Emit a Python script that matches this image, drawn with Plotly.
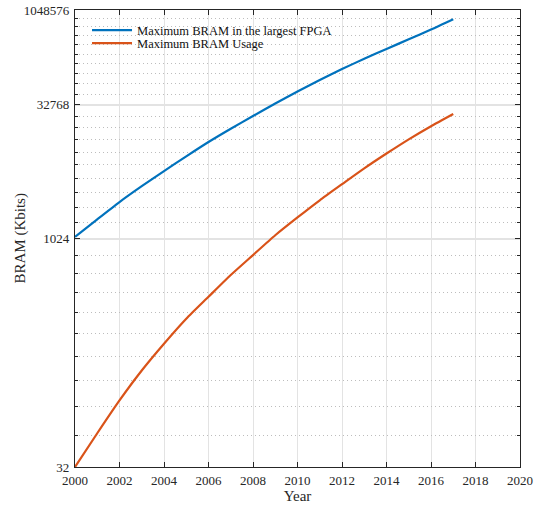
import math
import plotly.graph_objects as go

# Years covered by both series
years = list(range(2000, 2018))

# Largest on-chip block RAM available in a single FPGA (Kbits)
bram_largest_fpga = [1060, 1552, 2304, 3373, 4939, 7281, 10809, 15827, 23170,
                     34161, 50361, 73735, 107938, 155872, 223516, 322722,
                     472514, 716178]

# Largest block RAM actually used by designs (Kbits)
bram_usage = [32, 46.5, 69.5, 104, 154, 229, 333, 495, 729, 1097, 1618, 2402,
              3541, 5294, 7858, 11665, 17080, 24660]

# Y axis: log of the base-2 exponent, labelled with the power-of-two value
y_tick_exponents = [5, 10, 15, 20]
y_tick_labels = ["32", "1024", "32768", "1048576"]
y_minor_exponents = [k / 2 for k in range(11, 40) if k % 10 != 0]

x_ticks = list(range(2000, 2021, 2))

blue = "#0072BD"
orange = "#D95319"
axis_col = "#262626"
font_family = "Liberation Serif, Times New Roman, serif"

plot_left, plot_right = 75, 17
plot_top, plot_bottom = 10, 39
plot_w = 537 - plot_left - plot_right
plot_h = 506 - plot_top - plot_bottom
y_range = [math.log10(5), math.log10(20)]


def legend_y(px):
    # paper coordinate for a legend row centred px pixels from the page top
    return 1 - (px - plot_top) / plot_h


fig = go.Figure()
fig.add_trace(go.Scatter(
    x=years, y=[math.log2(v) for v in bram_largest_fpga],
    mode="lines", name="Maximum BRAM in the largest FPGA",
    line=dict(color=blue, width=2.2, shape="spline", smoothing=0.6),
    legend="legend",
))
fig.add_trace(go.Scatter(
    x=years, y=[math.log2(v) for v in bram_usage],
    mode="lines", name="Maximum BRAM Usage",
    line=dict(color=orange, width=2.2, shape="spline", smoothing=0.6),
    legend="legend2",
))
# empty trace that anchors the minor-tick axis
fig.add_trace(go.Scatter(x=[], y=[], yaxis="y2", showlegend=False,
                         hoverinfo="skip"))

legend_style = dict(
    xanchor="left", yanchor="middle",
    bgcolor="rgba(255,255,255,0)", borderwidth=0,
    font=dict(family=font_family, size=12.5, color="#111111"),
    itemwidth=40,
)

fig.update_layout(
    width=537, height=506,
    margin=dict(l=plot_left, r=plot_right, t=plot_top, b=plot_bottom),
    paper_bgcolor="white", plot_bgcolor="white",
    font=dict(family=font_family, size=13, color=axis_col),
    showlegend=True,
    legend=dict(x=0.027, y=legend_y(30.5), **legend_style),
    legend2=dict(x=0.027, y=legend_y(43.5), **legend_style),
    xaxis=dict(
        range=[2000, 2020], automargin=False,
        tickvals=x_ticks, ticktext=[str(t) for t in x_ticks],
        ticks="inside", ticklen=5, tickcolor=axis_col,
        ticklabelstandoff=1,
        showline=True, linecolor=axis_col, linewidth=1.2, mirror="ticks",
        showgrid=True, gridcolor="#e3e3e3", gridwidth=1,
        zeroline=False,
        title=dict(text="Year", font=dict(size=15), standoff=2),
    ),
    yaxis=dict(
        type="log", automargin=False,
        range=y_range,
        tickvals=y_tick_exponents, ticktext=y_tick_labels,
        ticks="inside", ticklen=5, tickcolor=axis_col,
        ticklabelstandoff=2,
        showline=True, linecolor=axis_col, linewidth=1.2, mirror="ticks",
        showgrid=True, gridcolor="#e3e3e3", gridwidth=1.5,
        zeroline=False,
    ),
    # minor ticks and dotted grid at every half power-of-two exponent
    yaxis2=dict(
        type="log", automargin=False, overlaying="y", side="left",
        range=y_range,
        tickmode="array", tickvals=y_minor_exponents,
        showticklabels=False,
        ticks="inside", ticklen=3, tickcolor=axis_col,
        showline=True, linecolor=axis_col, linewidth=1.2, mirror="ticks",
        showgrid=True, gridcolor="#bdbdbd", griddash="1px,3px", gridwidth=1,
        zeroline=False,
    ),
    annotations=[dict(
        text="BRAM (Kbits)", textangle=-90,
        xref="paper", yref="paper",
        x=(20 - plot_left) / plot_w, y=0.5,
        xanchor="center", yanchor="middle", showarrow=False,
        font=dict(family=font_family, size=15, color=axis_col),
    )],
)

fig.write_html("out.html")
